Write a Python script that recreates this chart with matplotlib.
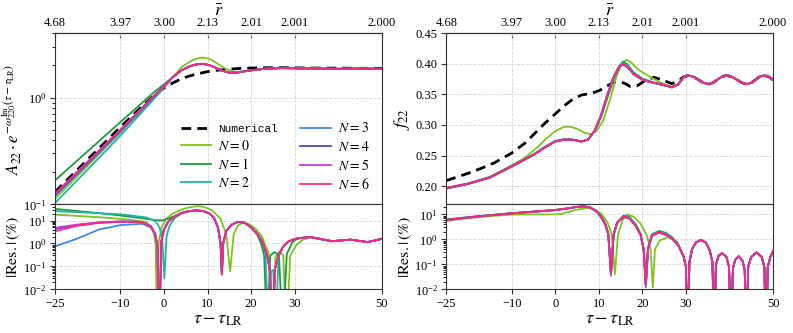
import numpy as np
import matplotlib
matplotlib.use("Agg")
import matplotlib.pyplot as plt
from matplotlib.ticker import NullFormatter

plt.rcParams['font.family'] = 'serif'
plt.rcParams['font.serif'] = ['Liberation Serif', 'DejaVu Serif']
plt.rcParams['mathtext.fontset'] = 'stix'
plt.rcParams['axes.unicode_minus'] = True

# ---- axis ticks / labels ----
x_ticks = [-25, -10, 0, 10, 20, 30, 50]
r_labels = ['4.68', '3.97', '3.00', '2.13', '2.01', '2.001', '2.000']
labels = ['Numerical', r'$N=0$', r'$N=1$', r'$N=2$', r'$N=3$', r'$N=4$', r'$N=5$', r'$N=6$']
colors = ['#7cc41e', '#1f9a3c', '#22b5a0', '#3f86ee', '#5b3ec6', '#c23fd6', '#ef2d7d']

# ---- top left: A22 (log) ----
lt_num_tau = [-25, -10, -5, -2, 0, 2, 4, 6, 8, 10, 12, 15, 18, 22, 26, 30, 35, 40, 45, 50]
lt_num = [0.131, 0.53, 0.83, 1.07, 1.23, 1.37, 1.5, 1.6, 1.68, 1.75, 1.8, 1.85, 1.88, 1.9, 1.91, 1.9, 1.89, 1.89, 1.88, 1.88]

lt_tau = [-25, -10, -2, 0, 2, 4, 6, 7.5, 9, 10.5, 12, 13.5, 15, 16.5, 18, 20, 23, 27, 31, 35, 40, 45, 50]
lt_n0 = [0.113, 0.47, 1.02, 1.25, 1.55, 1.92, 2.18, 2.32, 2.37, 2.3, 2.12, 1.93, 1.8, 1.74, 1.75, 1.8, 1.86, 1.89, 1.88, 1.87, 1.86, 1.87, 1.86]
lt_late = [1.55, 1.8, 1.97, 2.05, 2.07, 2.01, 1.89, 1.78, 1.71, 1.71, 1.75, 1.8, 1.86, 1.89, 1.88, 1.87, 1.86, 1.87, 1.86]
lt_n1_head = [0.168, 0.59, 1.15, 1.33]
lt_n2_head = [0.103, 0.44, 1.0, 1.24]
lt_n3_head = [0.12, 0.48, 1.05, 1.27]
lt_n4_head = [0.123, 0.49, 1.06, 1.28]
lt_n5_head = [0.127, 0.50, 1.07, 1.28]
lt_n6_head = [0.125, 0.50, 1.07, 1.28]

# ---- bottom left: residuals (%) ----
lb_tail_tau = [31, 33.5, 36, 38.5, 40.5, 42.8, 44.8, 46.7, 48.5, 50]
lb_tail = [1.7, 1.9, 1.55, 1.25, 1.35, 1.47, 1.3, 1.15, 1.35, 1.6]

lb_n0_tau = [-25, -15, -8, -4, -2.5, -1.9, -1.6, -1.2, -0.5, 0.5, 2, 4, 6, 7.6, 9, 11, 13, 14.3, 15.2, 16,
             17, 18, 19.5, 21, 22.5, 24, 24.9, 25.6, 26.5, 27.4, 28.1, 29, 30.5, 32, 34, 36, 39, 42.8, 46.7, 50]
lb_n0 = [18, 14, 11, 8.5, 4, 1, 1e-4, 1.2, 5, 12, 20, 30, 38, 42, 40, 28, 12, 2.5, 0.06, 2.5,
         6, 8, 7, 4.5, 2, 0.4, 1e-4, 0.25, 0.45, 0.3, 1e-4, 0.3, 0.9, 1.5, 1.9, 1.6, 1.25, 1.45, 1.15, 1.6]

lb_n1_tau = [-25, -20, -15, -10, -5, -2, -0.5, 1, 2.5, 4, 5.5, 7.3, 9, 10.5, 11.5, 12.4, 13, 13.3, 13.6, 14.3,
             15.5, 17, 18.5, 20, 21.5, 22.3, 23.0, 23.7, 24.4, 25.4, 26.4, 27.3, 28.2, 29.4, 30.2]
lb_n1 = [32, 26, 21, 16.5, 12.5, 10.5, 10, 12, 16, 21, 25, 27.5, 26, 20, 13, 5, 1, 0.05, 1, 3.5,
         6.5, 8.8, 8.2, 5.2, 2.2, 1.0, 0.3, 1e-4, 0.3, 0.42, 0.3, 1e-4, 0.35, 1.05, 1.45]

lb_n2_tau = [-25, -15, -9, -4, -2, -1, -0.4, 0.1, 0.6, 1.3, 2.5, 4, 5.5, 7.3, 9, 10.5, 11.5, 12.4, 13, 13.3,
             13.6, 14.3, 15.5, 17, 18.5, 20, 21.5, 22.5, 23.3, 24.0, 24.6, 25.1, 25.6, 26.3, 27.3, 28.5, 30]
lb_n2 = [25.6, 21, 18, 13.5, 9.5, 5, 1.5, 0.03, 2, 6, 13, 20, 25, 27.5, 26, 20, 13, 5, 1, 0.05,
         1, 3.5, 6.5, 8.7, 8, 5, 2.5, 1.3, 0.35, 1e-4, 0.06, 0.07, 1e-4, 0.25, 0.7, 1.2, 1.6]

lb_head_tau = [-25, -20, -15, -10, -5, -3, -2, -1.5]
lb_n3_head = [0.75, 1.6, 4.0, 6.3, 7.2, 5.0, 2.3, 0.7]
lb_n4_head = [4.3, 6.3, 8.1, 9.0, 8.6, 5.6, 2.5, 0.8]
lb_n5_head = [4.8, 6.6, 8.3, 9.2, 8.8, 5.7, 2.6, 0.8]
lb_n6_head = [3.4, 5.8, 7.8, 8.8, 8.5, 5.5, 2.5, 0.8]
lb_late_tau = [-1.1, -0.6, 0, 1, 2.5, 4, 5.5, 7.3, 9, 10.5, 11.5, 12.4, 13, 13.3, 13.6, 14.3, 15.5, 17, 18.5,
               20, 21.5, 22.5, 23.5, 24.3, 24.9, 25.5, 26.3, 27.3, 28.5, 30]
lb_late = [1e-4, 1.2, 4, 9, 15, 21, 25, 27.5, 26, 20, 13, 5, 1, 0.045, 1, 3.5, 6.5, 8.7, 8,
           5, 2.5, 1.3, 0.4, 0.08, 1e-4, 0.08, 0.3, 0.7, 1.2, 1.55]

# ---- top right: f22 ----
rt_tail_tau = [29.6, 30.6, 31.7, 32.9, 34.0, 35.2, 36.2, 37.2, 38.2, 39.3, 40.5, 41.7, 42.9, 44.1, 45.0,
               46.0, 46.9, 47.9, 49.0, 50]
rt_tail = [0.379, 0.381, 0.379, 0.374, 0.369, 0.367, 0.369, 0.374, 0.379, 0.381, 0.379, 0.374, 0.369, 0.367, 0.369,
           0.374, 0.379, 0.381, 0.379, 0.374]

rt_num_tau = [-25, -20, -17, -14, -10, -7, -5, -2.5, 0, 2, 4, 6, 8.5, 10.3, 12, 13.4, 14.8, 16, 17.2, 18.8,
              20.5, 22.6, 24.5, 26.8, 28.4]
rt_num = [0.209, 0.221, 0.229, 0.238, 0.254, 0.27, 0.284, 0.302, 0.318, 0.331, 0.342, 0.349, 0.352, 0.357, 0.364,
          0.37, 0.371, 0.368, 0.363, 0.364, 0.372, 0.378, 0.374, 0.3675, 0.373]

rt_n0_tau = [-25, -20, -15, -10, -7, -4, -2, 0, 2, 3.5, 5, 6.5, 8, 9.5, 11, 12.5, 14, 15.3, 16.4, 17.5,
             19, 20.5, 22, 24, 26.8, 28.2]
rt_n0 = [0.197, 0.204, 0.215, 0.234, 0.246, 0.264, 0.278, 0.29, 0.297, 0.297, 0.294, 0.288, 0.285, 0.29, 0.307,
         0.34, 0.378, 0.4, 0.407, 0.402, 0.391, 0.384, 0.378, 0.37, 0.362, 0.368]

rt_tau = [-25, -20, -15, -10, -5, -2, 0, 2, 4, 6, 7.5, 9, 10.5, 12, 13.5, 14.7, 15.6, 16.6, 18, 20,
          22, 24, 26.8, 28.2]
rt_n1 = [0.197, 0.204, 0.215, 0.233, 0.252, 0.266, 0.274, 0.277, 0.276, 0.273, 0.276, 0.289, 0.312, 0.345, 0.376,
         0.396, 0.404, 0.399, 0.386, 0.376, 0.371, 0.367, 0.361, 0.366]
rt_n2 = [0.196, 0.203, 0.214, 0.232, 0.251, 0.265, 0.273, 0.276, 0.276, 0.273, 0.276, 0.29, 0.314, 0.348, 0.378,
         0.396, 0.402, 0.398, 0.384, 0.375, 0.37, 0.366, 0.362, 0.366]
rt_n3 = [0.196, 0.204, 0.214, 0.232, 0.251, 0.265, 0.273, 0.276, 0.276, 0.273, 0.276, 0.29, 0.315, 0.35, 0.38,
         0.396, 0.399, 0.395, 0.383, 0.374, 0.37, 0.367, 0.362, 0.366]
rt_n4 = [0.196, 0.204, 0.214, 0.232, 0.251, 0.265, 0.273, 0.276, 0.276, 0.273, 0.276, 0.29, 0.315, 0.35, 0.38,
         0.396, 0.399, 0.395, 0.383, 0.374, 0.37, 0.367, 0.362, 0.366]
rt_n5 = [0.197, 0.204, 0.214, 0.232, 0.251, 0.265, 0.273, 0.276, 0.276, 0.273, 0.276, 0.29, 0.315, 0.35, 0.38,
         0.396, 0.399, 0.395, 0.383, 0.374, 0.37, 0.367, 0.362, 0.366]
rt_n6 = [0.197, 0.204, 0.214, 0.232, 0.251, 0.265, 0.273, 0.276, 0.276, 0.273, 0.276, 0.29, 0.315, 0.35, 0.38,
         0.396, 0.399, 0.395, 0.383, 0.374, 0.37, 0.367, 0.362, 0.366]

# ---- bottom right: residuals (%) ----
rb_tail_tau = [29.5, 30.0, 30.4, 30.8, 31.4, 32.3, 33.4, 34.6, 35.5, 36.1, 36.5, 36.9, 37.5, 38.3, 39.3, 39.9,
               40.4, 40.8, 41.3, 42.1, 43.0, 43.5, 43.9, 44.3, 45.0, 46.2, 47.4, 48.0, 48.4, 48.8, 49.4, 50]
rb_tail = [0.2, 0.08, 1e-4, 0.12, 0.4, 0.75, 0.95, 0.75, 0.35, 0.12, 1e-4, 0.1, 0.22, 0.28, 0.2, 0.08,
           1e-4, 0.07, 0.15, 0.21, 0.14, 0.06, 1e-4, 0.08, 0.2, 0.3, 0.2, 0.08, 1e-4, 0.08, 0.2, 0.33]

rb_n0_tau = [-25, -20, -15, -10, -5, 0, 1.5, 3, 5, 7.3, 9, 10.5, 12, 13.0, 13.7, 14.4, 15.5, 16.6, 18, 19.5,
             21, 21.9, 22.4, 22.9, 24, 26, 28]
rb_n0 = [5.5, 7.0, 8.5, 9.8, 10, 10, 10.5, 12.5, 15.5, 18, 16, 11, 5, 1.5, 0.04, 1.5, 6, 10, 8, 4.5,
         1.5, 0.4, 0.012, 0.4, 0.9, 1.25, 0.8]

rb_tau = [-25, -20, -15, -10, -5, 0, 3, 5, 6.6, 8, 9.5, 10.5, 11.5, 12.2, 12.8, 13.4, 14.2, 15.7, 17, 18.5,
          19.6, 20.3, 20.8, 21.3, 22.2, 23.8, 25.5, 27, 28.3]
rb_n1 = [6.3, 7.8, 9.4, 11.2, 13, 15, 17.5, 20, 21, 19.5, 13.5, 8.5, 4.5, 1.8, 0.05, 1.6, 4.8, 9, 8, 4,
         1.7, 0.45, 0.015, 0.45, 1.6, 2.2, 1.8, 1.15, 0.6]
rb_n2 = [6.1, 7.6, 9.3, 11.1, 12.9, 14.9, 17.5, 20, 21, 19.2, 13.2, 8.2, 4.2, 1.6, 0.045, 1.5, 4.6, 8.5, 7.4, 3.7,
         1.6, 0.42, 0.015, 0.42, 1.5, 2.0, 1.6, 1.05, 0.57]
rb_n3 = [6.0, 7.5, 9.2, 11, 12.8, 14.9, 17.5, 20, 21, 19, 13, 8, 4, 1.5, 0.035, 1.5, 4.5, 8.1, 7, 3.5,
         1.5, 0.4, 0.012, 0.4, 1.4, 1.9, 1.5, 1.0, 0.55]
rb_n4 = [5.9, 7.5, 9.2, 11, 12.8, 14.9, 17.5, 20, 21, 19, 13, 8, 4, 1.5, 0.04, 1.5, 4.5, 8.1, 7, 3.5,
         1.5, 0.4, 0.015, 0.4, 1.4, 1.9, 1.5, 1.0, 0.55]
rb_n5 = [5.9, 7.5, 9.2, 11, 12.8, 14.9, 17.5, 20, 21, 19, 13, 8, 4, 1.5, 0.04, 1.5, 4.5, 8.1, 7, 3.5,
         1.5, 0.4, 0.015, 0.4, 1.4, 1.9, 1.5, 1.0, 0.55]
rb_n6 = [5.9, 7.5, 9.2, 11, 12.8, 14.9, 17.5, 20, 21, 19, 13, 8, 4, 1.5, 0.04, 1.5, 4.5, 8.1, 7, 3.5,
         1.5, 0.4, 0.015, 0.4, 1.4, 1.9, 1.5, 1.0, 0.55]


fig = plt.figure(figsize=(7.93, 3.33), dpi=100)
ax_lt = fig.add_axes([0.0694, 0.386, 0.412, 0.514])
ax_lb = fig.add_axes([0.0694, 0.131, 0.412, 0.255], sharex=ax_lt)
ax_rt = fig.add_axes([0.5628, 0.386, 0.412, 0.514])
ax_rb = fig.add_axes([0.5628, 0.131, 0.412, 0.255], sharex=ax_rt)

lw = 1.3
num_kw = dict(color='k', ls='--', lw=2, dashes=(3.5, 2.2))

# top left
ax_lt.plot(lt_num_tau, lt_num, label=labels[0], **num_kw)
lt_series = [lt_n0,
             lt_n1_head + lt_late, lt_n2_head + lt_late, lt_n3_head + lt_late,
             lt_n4_head + lt_late, lt_n5_head + lt_late, lt_n6_head + lt_late]
for i, y in enumerate(lt_series):
    ax_lt.plot(lt_tau, y, color=colors[i], lw=lw, label=labels[i + 1])
ax_lt.set_yscale('log')
ax_lt.set_ylim(0.1, 4.0)

# bottom left
lb_series = [(lb_n0_tau, lb_n0),
             (lb_n1_tau + lb_tail_tau, lb_n1 + lb_tail),
             (lb_n2_tau + lb_tail_tau, lb_n2 + lb_tail)]
for h in [lb_n3_head, lb_n4_head, lb_n5_head, lb_n6_head]:
    lb_series.append((lb_head_tau + lb_late_tau + lb_tail_tau, h + lb_late + lb_tail))
for i, (t, y) in enumerate(lb_series):
    ax_lb.plot(t, y, color=colors[i], lw=lw)
ax_lb.set_yscale('log')
ax_lb.set_ylim(1e-2, 50)

# top right
ax_rt.plot(rt_num_tau + rt_tail_tau, rt_num + rt_tail, **num_kw)
ax_rt.plot(rt_n0_tau + rt_tail_tau, rt_n0 + rt_tail, color=colors[0], lw=lw)
for i, y in enumerate([rt_n1, rt_n2, rt_n3, rt_n4, rt_n5, rt_n6]):
    ax_rt.plot(rt_tau + rt_tail_tau, y + rt_tail, color=colors[i + 1], lw=lw)
ax_rt.set_ylim(0.17, 0.45)
ax_rt.set_yticks([0.20, 0.25, 0.30, 0.35, 0.40, 0.45])
ax_rt.set_yticklabels(['0.20', '0.25', '0.30', '0.35', '0.40', '0.45'])

# bottom right
ax_rb.plot(rb_n0_tau + rb_tail_tau, rb_n0 + rb_tail, color=colors[0], lw=lw)
for i, y in enumerate([rb_n1, rb_n2, rb_n3, rb_n4, rb_n5, rb_n6]):
    ax_rb.plot(rb_tau + rb_tail_tau, y + rb_tail, color=colors[i + 1], lw=lw)
ax_rb.set_yscale('log')
ax_rb.set_ylim(1e-2, 25)

for ax in [ax_lt, ax_lb, ax_rt, ax_rb]:
    ax.set_xlim(-25, 50)
    ax.set_xticks(x_ticks)
    ax.grid(True, ls='--', lw=0.6, color='#d4d4d4')
    ax.tick_params(labelsize=9, color='#333333', pad=2.5)
    for s in ax.spines.values():
        s.set_color('#333333')
    if ax.get_yscale() == 'log':
        ax.yaxis.set_minor_formatter(NullFormatter())

for ax in [ax_lt, ax_rt]:
    ax.tick_params(labelbottom=False)
    sec = ax.secondary_xaxis('top')
    sec.set_xticks(x_ticks, r_labels)
    sec.tick_params(labelsize=9, color='#333333', direction='in', pad=3)
    sec.set_xlabel(r'$\bar{r}$', fontsize=13, labelpad=1)

for ax in [ax_lb, ax_rb]:
    ax.set_xlabel(r'$\tau - \tau_{\rm LR}$', fontsize=13, labelpad=1)
    ax.set_ylabel(r'$|\mathrm{Res.}|\,(\%)$', fontsize=11.5)

ax_lt.set_ylabel(r'$A_{22}\cdot e^{-\omega_{220}^{\rm Im}(\tau-\tau_{\rm LR})}$', fontsize=12)
ax_rt.set_ylabel(r'$f_{22}$', fontsize=13)
ax_lt.yaxis.set_label_coords(-0.095, 0.5)
ax_lb.yaxis.set_label_coords(-0.1, 0.5)
ax_rt.yaxis.set_label_coords(-0.105, 0.5)
ax_rb.yaxis.set_label_coords(-0.1, 0.5)

leg = ax_lt.legend(ncol=2, loc='lower right', frameon=False, fontsize=10,
                   handlelength=2.2, handletextpad=0.5, columnspacing=1.6,
                   labelspacing=0.3, borderaxespad=0.5)
leg.get_texts()[0].set_family('Liberation Mono')
leg.get_texts()[0].set_fontsize(8)

fig.savefig('out.png', dpi=100)
